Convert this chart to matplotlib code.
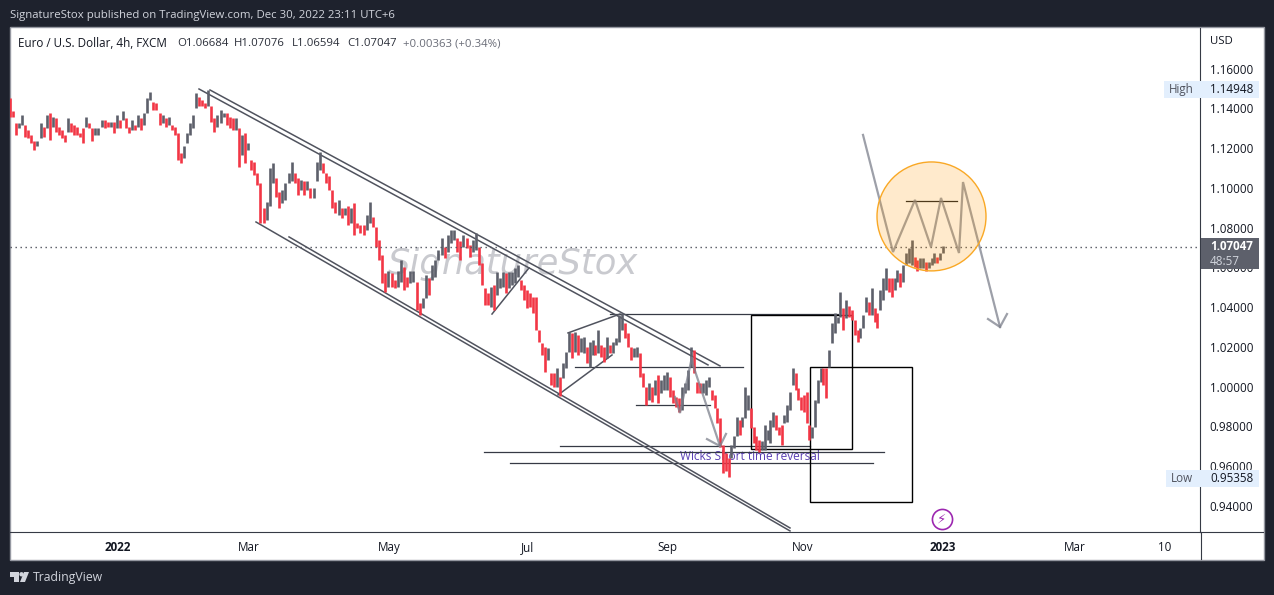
import numpy as np
import matplotlib
matplotlib.use("Agg")
import matplotlib.pyplot as plt
from matplotlib.patches import Rectangle, Ellipse, Polygon

plt.rcParams['font.family'] = ['Open Sans', 'DejaVu Sans']

# Price ranges of the bars, in 1/10000 USD
highs = [
11451,11384,11325,11325,11367,11317,11291,11266,11233,11233,11325,11308,11367,11375,11358,11350,11308,11291,11266,11350,
11325,11317,11308,11275,11300,11358,11325,11300,11300,11300,11342,11342,11333,11333,11333,11367,11342,11384,11350,11308,
11342,11317,11367,11350,11375,11451,11481,11434,11426,11375,11367,11350,11358,11317,11308,11275,11174,11208,11275,11325,
11367,11476,11459,11442,11426,11492,11409,11350,11367,11392,11375,11375,11358,11350,11350,11300,11266,11275,11224,
11140,11132,11073,11023,10897,10931,11098,11124,11048,10981,10989,11023,11073,11132,11073,11048,11040,11032,11032,10998,
10998,11132,11182,11124,11073,11057,10989,10931,10939,10897,10897,10906,10897,10922,10822,10813,10813,10864,10931,10855,
10805,10738,10662,10570,10579,10570,10537,10579,10637,10604,10553,10579,10579,10528,10419,10445,10562,10545,10612,10637,
10688,10746,10704,10763,10788,10788,10746,10730,10763,10746,10713,10738,10771,10704,
10620,10495,10469,10503,10511,10578,10545,10578,10570,10578,10578,10595,10612,10536,10511,10486,10469,10453,10453,10285,
10218,10201,10193,10067,10067,10092,10050,10117,10176,10276,10268,10276,10260,10243,10251,10201,10226,10235,10209,10285,
10209,10201,10251,10209,10226,10243,10360,10369,10318,10268,10201,10193,10201,10168,10067,10000,10017,10000,10033,10058,
10033,10058,10075,10050,9983,9949,9941,10000,10017,10084,10201,10184,10025,10017,10017,10033,10050,
9983,9958,9891,9841,9707,9665,9640,9707,9749,9849,9833,9849,10000,9958,9891,9799,9749,9732,9724,9807,
9782,9833,9874,9858,9799,9807,9858,9908,9975,10092,10067,9992,9950,9958,9975,9807,9799,9933,10034,10092,
10092,10092,10185,
10319,10369,10352,10478,10394,10436,10403,10386,10336,10285,10294,10361,10453,10428,10495,10394,10369,10486,10545,10595,
10545,10545,10545,10587,10570,10612,10671,10696,10738,10654,10637,10646,10646,10629,10629,10646,10671,10654,10671,10708]
lows = [
11358,11358,11266,11300,11317,11258,11250,11224,11191,11208,11250,11258,11300,11241,11308,11283,11266,11250,11229,11283,
11283,11266,11266,11258,11224,11308,11300,11233,11266,11266,11308,11300,11308,11308,11275,11300,11300,11342,11300,11275,
11291,11291,11308,11291,11317,11375,11442,11392,11392,11317,11325,11308,11317,11291,11266,11140,11124,11149,11224,11266,
11300,11400,11409,11409,11400,11409,11333,11283,11308,11325,11358,11317,11300,11291,11291,11107,11166,11124,11191,
11090,11065,11015,10822,10822,10838,10906,11023,10956,10897,10922,10939,11023,11032,11023,10964,10989,10964,10989,10947,
10947,11032,11090,11073,11023,10989,10897,10872,10864,10847,10864,10813,10822,10763,10797,10771,10763,10788,10822,10805,
10704,10637,10520,10478,10503,10503,10495,10503,10528,10486,10503,10520,10528,10386,10361,10394,10445,10461,10537,10553,
10637,10662,10646,10679,10721,10738,10679,10637,10704,10696,10654,10679,10688,10612,
10511,10411,10411,10402,10386,10461,10495,10503,10469,10495,10511,10520,10553,10486,10436,10394,10402,10369,10285,10226,
10159,10075,10134,10008,10000,10000,9953,10042,10092,10176,10142,10176,10159,10176,10168,10117,10100,10159,10159,10168,
10151,10126,10142,10168,10168,10209,10226,10285,10243,10201,10134,10151,10151,10050,10000,9908,9933,9924,9958,9916,
9966,9983,9983,9949,9916,9899,9874,9882,9966,9983,10100,10067,9966,9966,9966,9958,10000,
9933,9891,9816,9698,9564,9573,9547,9640,9690,9749,9757,9799,9841,9883,9791,9715,9682,9673,9682,9682,
9732,9715,9799,9782,9757,9707,9816,9824,9883,10009,9983,9933,9883,9874,9816,9732,9740,9799,9916,10025,
10009,9942,10101,
10218,10268,10319,10352,10285,10344,10352,10336,10260,10226,10243,10294,10377,10361,10361,10327,10294,10386,10436,10486,
10478,10453,10486,10528,10503,10528,10612,10621,10612,10604,10579,10595,10595,10579,10595,10612,10621,10621,10637,10671]

bar_anchor_index = [0, 78, 152, 229, 272, 312]
bar_anchor_x = [10, 248, 479, 709, 829, 943]

x_tick_pos = [118, 249, 389, 528, 667, 803, 943, 1075, 1165]
x_tick_labels = ['2022', 'Mar', 'May', 'Jul', 'Sep', 'Nov', '2023', 'Mar', '10']
y_ticks = [0.94, 0.96, 0.98, 1.00, 1.02, 1.04, 1.06, 1.08, 1.10, 1.12, 1.14, 1.16]

last_price = 1.07047
high_price = 1.14948
low_price = 0.95358

channel_lines = [([210, 720], [1.1492, 1.0104]), ([199, 708], [1.1497, 1.0109]),
                 ([256, 790], [1.0828, 0.9274]), ([289, 790], [1.0753, 0.9289]),
                 ([492, 529], [1.0365, 1.0597]), ([558, 612], [0.9958, 1.0159]),
                 ([568, 620], [1.0270, 1.0365])]
level_lines = [(610, 838, 1.0365), (575, 743, 1.0101), (636, 710, 0.9907),
               (560, 810, 0.9701), (484, 884, 0.9671), (510, 873, 0.9616)]
top_level = (906, 957, 1.0934)
boxes = [(751, 852, 0.9686, 1.0360), (810, 912, 0.9420, 1.0099)]
path1_x = [863, 893, 915, 931, 941, 959, 963, 1000]
path1_y = [1.1266, 1.0677, 1.0939, 1.0702, 1.0949, 1.0672, 1.1029, 1.0300]
head1_x = [988, 1000, 1007]
head1_y = [1.0340, 1.0300, 1.0365]
path2_x = [675, 680, 692, 693, 720]
path2_y = [0.9948, 0.9867, 1.0149, 1.0109, 0.9701]
head2_x = [707, 720, 726]
head2_y = [0.9736, 0.9701, 0.9762]

W, H = 1274, 595
DARK = '#1e222d'
LINE = '#50535e'
TXT = '#131722'
fig = plt.figure(figsize=(W / 100, H / 100), dpi=100, facecolor=DARK)


def fx(px):
    return px / W


def fy(py):
    return 1 - py / H


fig.add_artist(Rectangle((fx(10), fy(559.5)), 1253.5 / W, 532.5 / H, transform=fig.transFigure,
                         facecolor='white', edgecolor='#9598a1', lw=1.0, zorder=-1))
ax = fig.add_axes([fx(10), fy(532), 1190 / W, 504 / H], facecolor='none')
ax.set_xlim(10, 1200)
ax.set_ylim(0.92686, 1.18038)

for s in ['top', 'left']:
    ax.spines[s].set_visible(False)
for s in ['right', 'bottom']:
    ax.spines[s].set_color('#363a45')
    ax.spines[s].set_linewidth(0.8)
# the axis rules run on through the price and time panels
fig.add_artist(plt.Line2D([fx(1200.5), fx(1200.5)], [fy(532), fy(559)], color='#363a45', lw=0.8))
fig.add_artist(plt.Line2D([fx(1200), fx(1263)], [fy(532), fy(532)], color='#363a45', lw=0.8))

ax.set_xticks(x_tick_pos)
ax.set_xticklabels(x_tick_labels, fontsize=8.4, color=TXT)
for lab, t in zip(ax.get_xticklabels(), x_tick_labels):
    if t in ('2022', '2023'):
        lab.set_fontweight('bold')
ax.tick_params(axis='x', length=0, pad=6.5)
ax.yaxis.tick_right()
ax.set_yticks(y_ticks)
ax.set_yticklabels([f'{v:.5f}' for v in y_ticks], fontsize=8.4, color=TXT)
ax.tick_params(axis='y', length=0, pad=7)

# watermark and note sit beneath the bars
ax.text(513, 1.0617, 'SignatureStox', fontsize=25.5, style='italic', family=['DejaVu Sans'],
        color='#c9cacf', ha='center', va='center', zorder=1)
ax.text(750, 0.9646, 'Wicks Short time reversal', fontsize=8.6, color='#5a3fb5',
        ha='center', va='center', zorder=2)

for x0, x1, p in level_lines + [top_level]:
    ax.plot([x0, x1], [p, p], color='#363a45' if p != top_level[2] else '#222222', lw=0.9, zorder=2)
for x0, x1, lo, hi in boxes:
    ax.add_patch(Rectangle((x0, lo), x1 - x0, hi - lo, fill=False, edgecolor='black', lw=1.0, zorder=2))
for xs, ys in channel_lines:
    ax.plot(xs, ys, color=LINE, lw=1.1, zorder=2)

hi = np.array(highs) / 1e4
lo = np.array(lows) / 1e4
idx = np.arange(len(hi))
bx = np.interp(idx, bar_anchor_index, bar_anchor_x)
mid = (hi + lo) / 2
down = np.r_[True, mid[1:] < mid[:-1]]
ax.vlines(bx[~down], lo[~down], hi[~down], color='#5d606b', lw=1.9, zorder=3)
ax.vlines(bx[down], lo[down], hi[down], color='#f23645', lw=1.9, zorder=3)

ax.axhline(last_price, color=LINE, lw=1.0, ls=(0, (1, 2.6)), zorder=4)

ARROW = '#7d808c'
for xs, ys in [(path1_x, path1_y), (head1_x, head1_y), (path2_x, path2_y), (head2_x, head2_y)]:
    ax.plot(xs, ys, color=ARROW, alpha=0.75, lw=1.6, solid_joinstyle='miter', zorder=4.5)

ax.add_patch(Ellipse((931.5, 1.0856), 109, 0.0548, facecolor='#ff9800', alpha=0.2, edgecolor='none', zorder=5))
ax.add_patch(Ellipse((931.5, 1.0856), 109, 0.0548, fill=False, edgecolor='#f9a825', lw=1.0, zorder=5))

# session-break icon
ax.plot([942], [0.9334], marker='o', ms=14.5, mfc='white', mec='#9c27b0', mew=1.2, zorder=6)
ax.text(942, 0.9334, '\u26a1', fontsize=9.5, color='#9c27b0', family=['DejaVu Sans'],
        ha='center', va='center', zorder=7)

# price axis badges
PX = 0.000503
for p, txt, left, lbl in [(high_price, 'High', 1164, 1181), (low_price, 'Low', 1166, 1182)]:
    ax.add_patch(Rectangle((left, p - 8.5 * PX), 1259 - left, 17 * PX, facecolor='#e3effd', edgecolor='none',
                           clip_on=False, zorder=8))
    ax.text(lbl, p, txt, fontsize=8.4, color='#50535e', ha='center', va='center', clip_on=False, zorder=9)
    ax.text(1210, p, f'{p:.5f}', fontsize=8.4, color=TXT, ha='left', va='center', clip_on=False, zorder=9)
ax.add_patch(Rectangle((1200.5, last_price - 22.5 * PX), 58.5, 31 * PX, facecolor='#5d606b', edgecolor='none',
                       clip_on=False, zorder=8))
ax.text(1210, last_price, f'{last_price:.5f}', fontsize=8.4, fontweight='bold', color='white',
        ha='left', va='center', clip_on=False, zorder=9)
ax.text(1210, last_price - 14.5 * PX, '48:57', fontsize=8.4, color='#d1d4dc',
        ha='left', va='center', clip_on=False, zorder=9)

# header texts
fig.text(fx(10), fy(15.5), 'SignatureStox published on TradingView.com, Dec 30, 2022 23:11 UTC+6',
         fontsize=8.2, color='#d1d4dc', ha='left', va='center')
fig.text(fx(18), fy(43.5), 'Euro / U.S. Dollar, 4h, FXCM', fontsize=8.4, color=TXT, ha='left', va='center')
for px_x, t in [(177, 'O1.06684'), (234, 'H1.07076'), (292, 'L1.06594'), (347, 'C1.07047')]:
    fig.text(fx(px_x), fy(43.5), t, fontsize=8.2, color='#2a2e39', ha='left', va='center')
fig.text(fx(403), fy(43.5), '+0.00363 (+0.34%)', fontsize=8.2, color='#6a6d78', ha='left', va='center')
fig.text(fx(1210), fy(42), 'USD', fontsize=8.2, color=TXT, ha='left', va='center')

# footer logo
LOGO = '#d1d4dc'
for pts in [[(10, 572), (19, 572), (19, 582), (14, 582), (14, 576.5), (10, 576.5)],
            [(24, 572), (29, 572), (25, 582), (20, 582)]]:
    fig.add_artist(Polygon([(fx(a), fy(b)) for a, b in pts], transform=fig.transFigure, facecolor=LOGO, edgecolor='none'))
fig.add_artist(Ellipse((fx(21.5), fy(574.3)), 4.4 / W, 4.4 / H, transform=fig.transFigure, facecolor=LOGO, edgecolor='none'))
fig.text(fx(33), fy(577), 'TradingView', fontsize=8.8, color=LOGO, ha='left', va='center')

fig.savefig('out.png', dpi=100, facecolor=DARK)
